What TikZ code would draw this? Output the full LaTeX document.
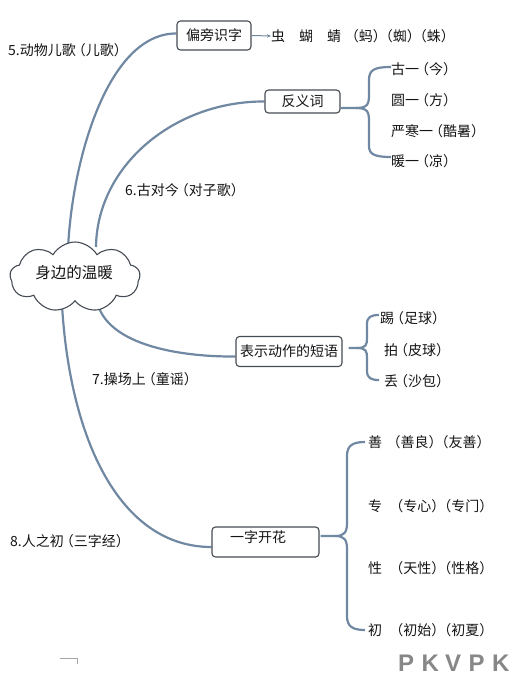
\documentclass[tikz,border=0pt]{standalone}
\usepackage{fontspec}
\setmainfont{Noto Sans CJK SC}
\newfontfamily\wmfont{Liberation Sans}
\usetikzlibrary{shapes.symbols,arrows.meta,calc}
\pgfdeclarelayer{bg}
\pgfsetlayers{bg,main}
\definecolor{linec}{RGB}{112,136,162}
\definecolor{boxc}{RGB}{70,76,84}
\definecolor{txtc}{RGB}{20,20,20}
\definecolor{wmc}{RGB}{135,135,135}
\newcommand\fs{\fontsize{14}{16}\selectfont}
\newcommand\wl[1]{\makebox[23.5pt][l]{#1}}
\newcommand\lp{\makebox[10pt][r]{（}}
\newcommand\rp{\makebox[10pt][l]{）}}
\begin{document}
\begin{tikzpicture}[x=1pt,y=-1pt,
  conn/.style={draw=linec,line width=2.2pt},
  topic/.style={draw=boxc,line width=1.1pt,rounded corners=3.5pt,fill=white,inner sep=0pt,font=\fs,text=txtc},
  lab/.style={anchor=west,inner sep=0pt,font=\fs,text=txtc},
]
\useasboundingbox (0,0) rectangle (524,688);
% central cloud
\node[cloud, draw=boxc, fill=white, line width=1.1pt, cloud puffs=9, cloud puff arc=120,
      aspect=1.9, minimum width=130pt, minimum height=70pt, inner sep=0pt] (root) at (75,277) {};
\node[lab, anchor=center, font=\fontsize{15.5}{17}\selectfont] (roottxt) at (74,273) {身边的温暖};
% topic boxes
\node[topic, minimum width=74pt, minimum height=29pt] (b1) at (214,35.5) {偏旁识字};
\node[topic, minimum width=75pt, minimum height=23pt] (b2) at (302.5,101.5) {反义词};
\node[topic, minimum width=106pt, minimum height=30pt] (b3) at (289,351.5) {表示动作的短语};
\node[topic, minimum width=107pt, minimum height=30pt] (b4) at (265.5,542) {};
\node[lab, anchor=center] (b4t) at (258,537) {一字开花};
% labels of the lesson titles
\node[lab] (t5) at (8,50) {5.动物儿歌\lp 儿歌\rp};
\node[lab] (t6) at (125,190) {6.古对今\lp 对子歌\rp};
\node[lab] (t7) at (92,379) {7.操场上\lp 童谣\rp};
\node[lab] (t8) at (10,541) {8.人之初\lp 三字经\rp};
% leaves
\node[lab] (l1) at (271,36) {虫\hspace{1em}蝴\hspace{1em}蜻\hspace{0.55em}\lp 蚂\rp\lp 蜘\rp\lp 蛛\rp};
\node[lab] (l21) at (391,69) {古一\lp 今\rp};
\node[lab] (l22) at (391,100) {圆一\lp 方\rp};
\node[lab] (l23) at (391,131) {严寒一\lp 酷暑\rp};
\node[lab] (l24) at (391,161) {暖一\lp 凉\rp};
\node[lab] (l31) at (380,318) {踢\lp 足球\rp};
\node[lab] (l32) at (384,350) {拍\lp 皮球\rp};
\node[lab] (l33) at (384,381) {丢\lp 沙包\rp};
\node[lab] (l41) at (368,442) {善\hspace{0.6em}\lp 善良\rp\lp 友善\rp};
\node[lab] (l42) at (368,506) {专\hspace{0.8em}\lp 专心\rp\lp 专门\rp};
\node[lab] (l43) at (368,568) {性\hspace{0.8em}\lp 天性\rp\lp 性格\rp};
\node[lab] (l44) at (368,630) {初\hspace{0.8em}\lp 初始\rp\lp 初夏\rp};
% watermark
\node[anchor=west, inner sep=0pt, text=wmc, font=\wmfont\bfseries\fontsize{24}{24}\selectfont] (wm) at (398,663) {\wl{P}\wl{K}\wl{V}\wl{P}K};
% small corner mark
\coordinate (m1) at (60,658.5);
\coordinate (m2) at (77,658.5);
\coordinate (m3) at (77,664);
\draw[draw=black!35, line width=0.7pt] (m1) -- (m2) -- (m3);
% connectors
\begin{pgfonlayer}{bg}
\draw[conn] ($(root.center)+(-7,-28)$) .. controls (72,160) and (108,33) .. ($(b1.west)+(0,-2)$);
\draw[conn] ($(root.center)+(21,-30)$) .. controls (97,165) and (175,101) .. (b2.west);
\draw[conn] ($(root.center)+(21,18)$) .. controls (100,345) and (180,357) .. ($(b3.west)+(0,5)$);
\draw[conn] ($(root.center)+(-13,28)$) .. controls (70,440) and (120,547) .. ($(b4.west)+(0,5)$);
\end{pgfonlayer}
% arrow
\draw[draw=linec, line width=1pt, -{Stealth[length=4pt,width=3.5pt]}] (b1.east) -- (l1.west);
% brace of b2
\coordinate (j2) at (356,108);
\draw[conn] ($(b2.east)+(0,6.5)$) -- (j2) .. controls (368,108) and (369,104) .. (369,94) -- (369,80)
   .. controls (369,70) and (374,67) .. ($(l21.west)+(0,-2)$);
\draw[conn] (j2) .. controls (368,108) and (369,112) .. (369,122) -- (369,146)
   .. controls (369,154) and (374,157) .. ($(l24.west)+(0,-4)$);
% brace of b3
\coordinate (j3) at (357,348);
\draw[conn] ($(b3.east)+(6,-3.5)$) -- (j3) .. controls (366,348) and (367,345) .. (367,338) -- (367,324)
   .. controls (367,317) and (371,315) .. ($(l31.west)+(-1,-3)$);
\draw[conn] (j3) .. controls (366,348) and (367,351) .. (367,358) -- (367,371)
   .. controls (367,378) and (371,380) .. ($(l33.west)+(-5,-1)$);
% brace of b4
\coordinate (j4) at (335,536);
\draw[conn] ($(b4.east)+(1,-6)$) -- (j4) .. controls (345,536) and (347,532) .. (347,522) -- (347,456)
   .. controls (347,446) and (352,442) .. ($(l41.west)+(-3,0)$);
\draw[conn] (j4) .. controls (345,536) and (347,540) .. (347,550) -- (347,616)
   .. controls (347,626) and (352,630) .. ($(l44.west)+(-3,0)$);
\end{tikzpicture}
\end{document}
